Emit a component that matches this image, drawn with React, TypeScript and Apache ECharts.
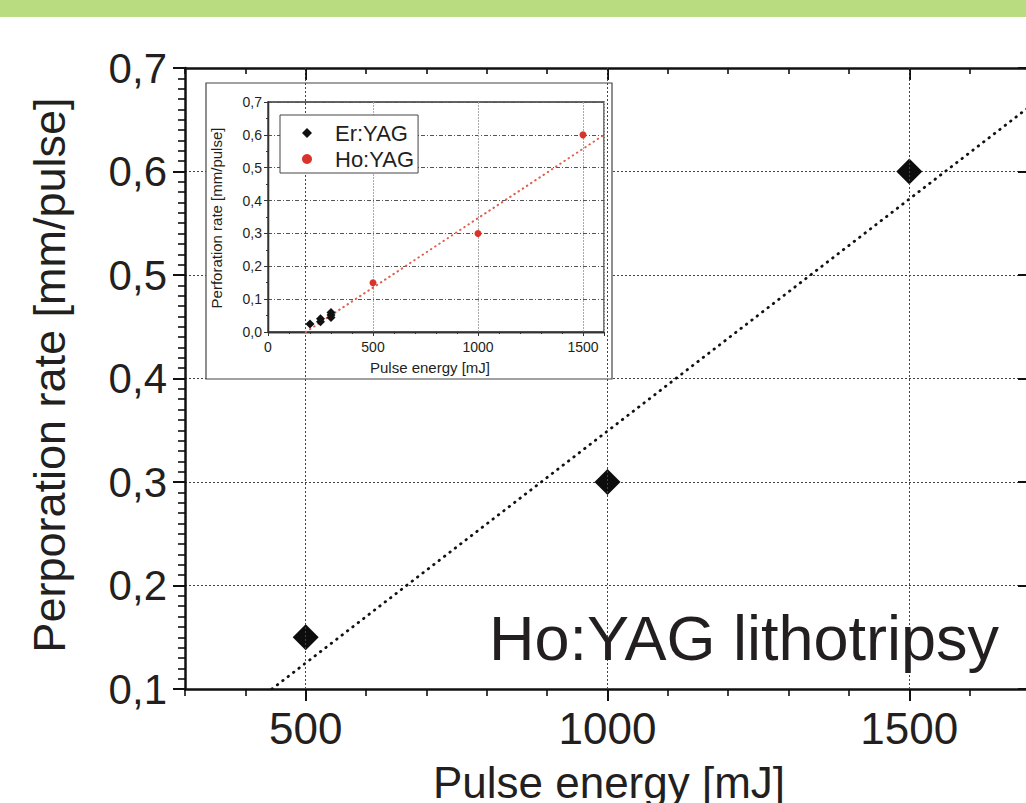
import React, { useEffect, useRef } from "react";
import * as echarts from "echarts";

// ---- data ----
const mainEnergy = [500, 1000, 1500];
const mainRate = [0.15, 0.3, 0.6];
const mainFitEnergy = [444, 1700];
const mainFitRate = [0.1, 0.663];

const erEnergy = [200, 250, 250, 300, 300, 300];
const erRate = [0.024, 0.031, 0.04, 0.044, 0.052, 0.059];
const hoEnergy = [500, 1000, 1500];
const hoRate = [0.15, 0.3, 0.6];
const insetFitEnergy = [180, 1600];
const insetFitRate = [0, 0.6];

const mainXTicks = [500, 1000, 1500];

const FONT = "'Liberation Sans', Arial, Helvetica, sans-serif";
const INK = "#231f20";

const pairs = (xs: number[], ys: number[]) => xs.map((x, i) => [x, ys[i]]);
const comma = (v: number) => v.toFixed(1).replace(".", ",");
const plain = (v: number) => String(Math.round(v));

export default function App() {
  const ref = useRef<HTMLDivElement>(null);

  useEffect(() => {
    if (!ref.current) return;
    const chart = echarts.init(ref.current, null, { renderer: "svg" });

    const option: any = {
      animation: false,
      backgroundColor: "#ffffff",
      textStyle: { fontFamily: FONT, color: INK },
      grid: [
        { left: 185, top: 68, right: 10, bottom: 114, containLabel: false, outerBoundsMode: "none" },
        {
          left: 268, top: 102, width: 336, height: 230, containLabel: false, outerBoundsMode: "none",
          show: true, borderColor: "#333", borderWidth: 1.3, backgroundColor: "transparent", z: 6,
        },
      ],
      legend: {
        show: true,
        data: ["Er:YAG", "Ho:YAG"],
        orient: "vertical",
        left: 280,
        top: 115,
        padding: [7, 4, 3, 22],
        itemWidth: 10,
        itemHeight: 10,
        itemGap: 4,
        borderColor: "#444",
        borderWidth: 1,
        backgroundColor: "#fff",
        textStyle: { fontSize: 22, color: INK, fontFamily: FONT, padding: [0, 0, 0, 18] },
        z: 9,
      },
      xAxis: [
        {
          type: "value", gridIndex: 0, position: "bottom", min: 300, max: 1700,
          axisLine: { show: true, lineStyle: { color: "#111", width: 2.5 } },
          axisTick: { show: true, customValues: mainXTicks, length: 12, inside: false, lineStyle: { color: "#111", width: 2 } },
          axisLabel: { show: true, customValues: mainXTicks, fontSize: 44, color: INK, margin: 17, fontFamily: FONT, formatter: plain },
          splitLine: { show: false },
        },
        {
          type: "value", gridIndex: 0, position: "bottom", min: 300, max: 1700, interval: 100,
          axisLine: { show: false },
          axisTick: { show: true, length: 7, inside: false, lineStyle: { color: "#111", width: 1.6 } },
          axisLabel: { show: false },
          splitLine: { show: false },
        },
        {
          type: "value", gridIndex: 0, position: "top", min: 300, max: 1700, interval: 100,
          axisLine: { show: true, lineStyle: { color: "#111", width: 2.5 } },
          axisTick: { show: true, length: 6, inside: true, lineStyle: { color: "#111", width: 1.6 } },
          axisLabel: { show: false },
          splitLine: { show: false },
        },
        {
          type: "value", gridIndex: 0, position: "top", min: 300, max: 1700,
          axisLine: { show: false },
          axisTick: { show: true, customValues: mainXTicks, length: 12, inside: true, lineStyle: { color: "#111", width: 2 } },
          axisLabel: { show: false },
          splitLine: { show: false },
        },
        {
          type: "value", gridIndex: 1, position: "bottom", min: 0, max: 1600, interval: 500, z: 6,
          axisLine: { show: true, lineStyle: { color: "#333", width: 1.3 } },
          axisTick: { show: true, length: 4, inside: false, lineStyle: { color: "#333", width: 1 } },
          minorTick: { show: true, splitNumber: 5, length: 2, lineStyle: { color: "#333", width: 1 } },
          axisLabel: { show: true, fontSize: 14, color: INK, margin: 8, fontFamily: FONT, formatter: plain },
          splitLine: { show: true, lineStyle: { color: "#aaa", width: 1, type: [2, 1] } },
        },
        {
          type: "value", gridIndex: 1, position: "top", min: 0, max: 1600, interval: 500, z: 6,
          axisLine: { show: true, lineStyle: { color: "#333", width: 1.3 } },
          axisTick: { show: false },
          axisLabel: { show: false },
          splitLine: { show: false },
        },
      ],
      yAxis: [
        {
          type: "value", gridIndex: 0, position: "left", min: 0.1, max: 0.7, interval: 0.1,
          axisLine: { show: true, lineStyle: { color: "#111", width: 2.5 } },
          axisTick: { show: true, length: 12, inside: false, lineStyle: { color: "#111", width: 2 } },
          minorTick: { show: true, splitNumber: 10, length: 7, lineStyle: { color: "#111", width: 1.6 } },
          axisLabel: { show: true, fontSize: 42, color: INK, margin: 18, fontFamily: FONT, formatter: comma },
          splitLine: { show: true, lineStyle: { color: "#444", width: 1, type: [2, 2] } },
        },
        {
          type: "value", gridIndex: 0, position: "right", min: 0.1, max: 0.7, interval: 0.1,
          axisLine: { show: true, lineStyle: { color: "#111", width: 2.5 } },
          axisTick: { show: true, length: 12, inside: true, lineStyle: { color: "#111", width: 2 } },
          minorTick: { show: false },
          axisLabel: { show: false },
          splitLine: { show: false },
        },
        {
          type: "value", gridIndex: 1, position: "left", min: 0, max: 0.7, interval: 0.1, z: 6,
          axisLine: { show: true, lineStyle: { color: "#333", width: 1.3 } },
          axisTick: { show: true, length: 4, inside: false, lineStyle: { color: "#333", width: 1 } },
          minorTick: { show: true, splitNumber: 2, length: 2, lineStyle: { color: "#333", width: 1 } },
          axisLabel: { show: true, fontSize: 14, color: INK, margin: 6, fontFamily: FONT, formatter: comma },
          splitLine: { show: true, lineStyle: { color: "#555", width: 1, type: [4, 2, 1, 2] } },
        },
        {
          type: "value", gridIndex: 1, position: "right", min: 0, max: 0.7, interval: 0.1, z: 6,
          axisLine: { show: true, lineStyle: { color: "#333", width: 1.3 } },
          axisTick: { show: false },
          axisLabel: { show: false },
          splitLine: { show: false },
        },
      ],
      series: [
        {
          name: "Ho:YAG main",
          type: "scatter",
          xAxisIndex: 0,
          yAxisIndex: 0,
          symbol: "diamond",
          symbolSize: 26,
          itemStyle: { color: "#0d0d0d", opacity: 1 },
          data: pairs(mainEnergy, mainRate),
          z: 4,
          markLine: {
            silent: true,
            symbol: ["none", "none"],
            label: { show: false },
            lineStyle: { color: "#444", width: 1, type: [2, 2] },
            data: mainXTicks.map((v) => ({ xAxis: v })),
          },
        },
        {
          name: "main fit",
          type: "line",
          xAxisIndex: 0,
          yAxisIndex: 0,
          symbol: "none",
          showSymbol: false,
          lineStyle: { color: "#111", width: 2.8, type: [0.5, 6.3], cap: "round" },
          data: pairs(mainFitEnergy, mainFitRate),
          z: 3,
        },
        {
          name: "Er:YAG",
          type: "scatter",
          xAxisIndex: 4,
          yAxisIndex: 2,
          symbol: "diamond",
          symbolSize: 9,
          itemStyle: { color: "#111", opacity: 1 },
          data: pairs(erEnergy, erRate),
          z: 8,
        },
        {
          name: "Ho:YAG",
          type: "scatter",
          xAxisIndex: 4,
          yAxisIndex: 2,
          symbol: "circle",
          symbolSize: 7,
          itemStyle: { color: "#d9342b", opacity: 1 },
          data: pairs(hoEnergy, hoRate),
          z: 8,
        },
        {
          name: "inset fit",
          type: "line",
          xAxisIndex: 4,
          yAxisIndex: 2,
          symbol: "none",
          showSymbol: false,
          lineStyle: { color: "#e0604f", width: 2, type: [0.5, 4.5], cap: "round" },
          data: pairs(insetFitEnergy, insetFitRate),
          z: 7,
        },
      ],
      graphic: [
        { type: "rect", z: 0, shape: { x: 0, y: 0, width: 1040, height: 17 }, style: { fill: "#badc81" } },
        {
          type: "rect", z: 5, shape: { x: 206, y: 83, width: 406, height: 296 },
          style: { fill: "#ffffff", stroke: "#444", lineWidth: 1.2 },
        },
        {
          type: "text", z: 10, x: 49, y: 375, rotation: Math.PI / 2,
          style: { text: "Perporation rate [mm/pulse]", font: `45px ${FONT}`, fill: INK, textAlign: "center", textVerticalAlign: "middle" },
        },
        {
          type: "text", z: 10, x: 609, y: 782,
          style: { text: "Pulse energy [mJ]", font: `44px ${FONT}`, fill: INK, textAlign: "center", textVerticalAlign: "middle" },
        },
        {
          type: "text", z: 10, x: 489, y: 638,
          style: { text: "Ho:YAG lithotripsy", font: `63px ${FONT}`, fill: INK, textAlign: "left", textVerticalAlign: "middle" },
        },
        {
          type: "text", z: 10, x: 430, y: 367,
          style: { text: "Pulse energy [mJ]", font: `15px ${FONT}`, fill: INK, textAlign: "center", textVerticalAlign: "middle" },
        },
        {
          type: "text", z: 10, x: 216, y: 218, rotation: Math.PI / 2,
          style: { text: "Perforation rate [mm/pulse]", font: `15px ${FONT}`, fill: INK, textAlign: "center", textVerticalAlign: "middle" },
        },
      ],
    };

    chart.setOption(option);
    return () => chart.dispose();
  }, []);

  return (
    <div
      ref={ref}
      style={{ position: "fixed", left: 0, top: 0, width: 1040, height: 803, background: "#fff", overflow: "hidden" }}
    />
  );
}
